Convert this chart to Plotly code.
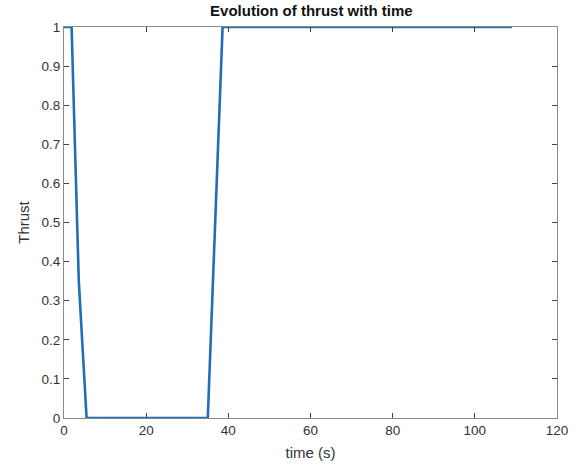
import plotly.graph_objects as go

time_s = [0, 1.85, 3.6, 5.5, 35.0, 38.6, 109.0]
thrust = [1, 1, 0.35, 0, 0, 1, 1]
x_ticks = [0, 20, 40, 60, 80, 100, 120]
y_ticks = [0, 0.1, 0.2, 0.3, 0.4, 0.5, 0.6, 0.7, 0.8, 0.9, 1]
y_labels = ["0", "0.1", "0.2", "0.3", "0.4", "0.5", "0.6", "0.7", "0.8", "0.9", "1"]

fig = go.Figure()
fig.add_trace(go.Scatter(x=time_s, y=thrust, mode="lines",
                         line=dict(color="#1f6fb4", width=2.6), showlegend=False))

axis_common = dict(showline=True, linecolor="#8a8a8a", linewidth=1, mirror="ticks",
                   ticks="inside", ticklen=5, tickcolor="#444", showgrid=False, zeroline=False,
                   automargin=False,
                   tickfont=dict(family="Liberation Sans, Arial", size=13.5, color="#333"))

fig.update_layout(
    width=582, height=466,
    margin=dict(l=64, r=25, t=27, b=48),
    paper_bgcolor="white", plot_bgcolor="white",
    title=dict(text="<b>Evolution of thrust with time</b>", x=0.535, xanchor="center",
               y=0.978, yanchor="middle",
               font=dict(family="Liberation Sans, Arial", size=15, color="#111")),
    xaxis=dict(range=[0, 120], tickvals=x_ticks, ticktext=[str(v) for v in x_ticks],
               title=dict(text="time (s)", standoff=10,
                          font=dict(family="Liberation Sans, Arial", size=15, color="#333")),
               **axis_common),
    yaxis=dict(range=[0, 1], tickvals=y_ticks, ticktext=y_labels,
               title=dict(text="Thrust", standoff=8,
                          font=dict(family="Liberation Sans, Arial", size=15, color="#333")),
               **axis_common),
)
fig.write_html("out.html")
